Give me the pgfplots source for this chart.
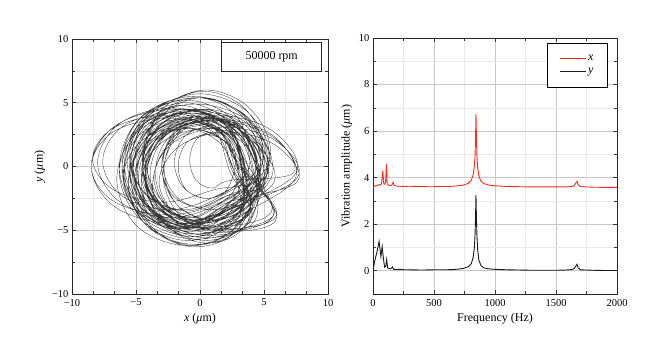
\documentclass[border=0pt]{standalone}
\usepackage{fontspec}
\setmainfont{Liberation Serif}
\usepackage{pgfplots}
\pgfplotsset{compat=1.18}

\definecolor{gridmaj}{RGB}{205,198,196}
\definecolor{gridmin}{RGB}{236,232,230}
\definecolor{redline}{RGB}{236,48,32}
\definecolor{orbit}{RGB}{55,55,55}

\pgfplotsset{common/.style={
  scale only axis,
  axis line style={line width=0.8pt, black!85},
  grid=both,
  major grid style={gridmaj, line width=0.6pt},
  minor grid style={gridmin, line width=0.4pt},
  tick align=inside, major tick length=4pt, minor tick length=3pt,
  tick style={black!80, line width=0.6pt},
  tick label style={font=\fontsize{10.5}{12}\selectfont},
  xticklabel style={yshift=-1.5pt},
  label style={font=\fontsize{12}{14}\selectfont},
  /pgf/number format/assume math mode=true,
}}

\begin{document}
\begin{tikzpicture}
\useasboundingbox (0,0) rectangle (660pt,361pt);

% ---------------- left: orbit ----------------
\begin{axis}[common,
  at={(72pt,67pt)}, anchor=south west,
  width=256pt, height=255pt,
  xmin=-10, xmax=10, ymin=-10, ymax=10,
  xtick={-10,-5,0,5,10}, ytick={-10,-5,0,5,10},
  xticklabels={−10,−5,0,5,10}, yticklabels={−10,−5,0,5,10},
  minor x tick num=2, minor y tick num=1,
  xlabel={\textit{x} (\textit{μ}m)}, ylabel={\textit{y} (\textit{μ}m)},
]
\addplot[orbit, line width=0.33pt, smooth, tension=0.6] coordinates {
(4.5,0) (3.2,3.2) (0,4.5) (-3.2,3.2) (-4.5,0) (-3.2,-3.2) (0,-4.5) (3.2,-3.2)
(4.5,-0.5) (3.05,2.9) (-0.5,4.3) (-4.05,2.9) (-5.5,-0.5) (-4.05,-3.9) (-0.5,-5.3) (3.05,-3.9)
(3.2,0) (2.0,3.2) (-1,4.5) (-4.0,3.2) (-5.2,0) (-4.0,-3.2) (-1,-4.5) (2.0,-3.2)
(5.3,-1) (3.9,2.3) (0.5,3.6) (-2.9,2.3) (-4.3,-1) (-2.9,-4.3) (0.5,-5.6) (3.9,-4.3)
(4.7,0.5) (3.2,4.05) (-0.5,5.5) (-4.2,4.05) (-5.7,0.5) (-4.2,-3.05) (-0.5,-4.5) (3.2,-3.05)
(3.0,-0.5) (1.7,2.5) (-1.5,3.7) (-4.7,2.5) (-6.0,-0.5) (-4.7,-3.5) (-1.5,-4.7) (1.7,-3.5)
(3.5,-0.5) (2.5,2.2) (0,3.3) (-2.5,2.2) (-3.5,-0.5) (-2.5,-3.2) (0,-4.3) (2.5,-3.2)
(4.5,-1) (2.9,2.7) (-1,4.2) (-4.9,2.7) (-6.5,-1) (-4.9,-4.7) (-1,-6.2) (2.9,-4.7)
(5,0) (3.8,3.0) (1,4.2) (-1.8,3.0) (-3,0) (-1.8,-3.0) (1,-4.2) (3.8,-3.0)
(5.3,0) (3.6,3.9) (-0.5,5.5) (-4.6,3.9) (-6.3,0) (-4.6,-3.9) (-0.5,-5.5) (3.6,-3.9)
(4.5,0) (2.6,3.2) (-2,4.5) (-6.6,3.2) (-8.5,0) (-6.6,-3.2) (-2,-4.5) (2.6,-3.2)
(7.5,-0.5) (5.8,2.7) (1.5,4.0) (-2.8,2.7) (-4.5,-0.5) (-2.8,-3.7) (1.5,-5.0) (5.8,-3.7)
(3,0) (2.1,2.3) (0,3.2) (-2.1,2.3) (-3,0) (-2.1,-2.3) (0,-3.2) (2.1,-2.3)
(4.1,-1) (2.8,2.7) (-0.5,4.2) (-3.8,2.7) (-5.1,-1) (-3.8,-4.7) (-0.5,-6.2) (2.8,-4.7)
(5.5,0.5) (4.05,4.4) (0.5,6.0) (-3.05,4.4) (-4.5,0.5) (-3.05,-3.4) (0.5,-5.0) (4.05,-3.4)
(2.5,0) (1.3,3.4) (-1.5,4.8) (-4.3,3.4) (-5.5,0) (-4.3,-3.4) (-1.5,-4.8) (1.3,-3.4)
(5.3,-0.5) (3.8,2.6) (0,3.9) (-3.8,2.6) (-5.3,-0.5) (-3.8,-3.6) (0,-4.9) (3.8,-3.6)
(3.4,0.5) (2.1,3.3) (-1,4.5) (-4.1,3.3) (-5.4,0.5) (-4.1,-2.3) (-1,-3.5) (2.1,-2.3)
(4.7,-1.5) (3.5,1.7) (0.5,3.0) (-2.5,1.7) (-3.7,-1.5) (-2.5,-4.7) (0.5,-6.0) (3.5,-4.7)
(5.3,0.2) (3.7,3.9) (-0.3,5.4) (-4.3,3.9) (-5.9,0.2) (-4.3,-3.5) (-0.3,-5.0) (3.7,-3.5)
(7.5,-0.8) (5.7,2.3) (1.2,3.6) (-3.3,2.3) (-5.1,-0.8) (-3.3,-3.9) (1.2,-5.2) (5.7,-3.9)
(3.5,0) (1.8,2.7) (-2.5,3.8) (-6.8,2.7) (-8.5,0) (-6.8,-2.7) (-2.5,-3.8) (1.8,-2.7)
(3.0,-0.6) (1.9,2.0) (-0.8,3.0) (-3.5,2.0) (-4.6,-0.6) (-3.5,-3.2) (-0.8,-4.2) (1.9,-3.2)
(4.9,0.3) (3.5,3.9) (0.2,5.4) (-3.1,3.9) (-4.5,0.3) (-3.1,-3.3) (0.2,-4.8) (3.5,-3.3)
(4.6,-1.2) (3.1,2.3) (-0.5,3.7) (-4.1,2.3) (-5.6,-1.2) (-4.1,-4.7) (-0.5,-6.1) (3.1,-4.7)
(3.1,0.8) (1.85,3.8) (-1.2,5.0) (-4.25,3.8) (-5.5,0.8) (-4.25,-2.2) (-1.2,-3.4) (1.85,-2.2)
(4.4,-0.2) (3.4,2.6) (0.8,3.8) (-1.8,2.6) (-2.8,-0.2) (-1.8,-3.0) (0.8,-4.2) (3.4,-3.0)
(5.7,-0.4) (4.0,3.4) (-0.3,4.9) (-4.6,3.4) (-6.3,-0.4) (-4.6,-4.2) (-0.3,-5.7) (4.0,-4.2)
(2.3,-0.3) (1.1,3.0) (-1.8,4.3) (-4.7,3.0) (-5.9,-0.3) (-4.7,-3.6) (-1.8,-4.9) (1.1,-3.6)
(5.3,0.1) (3.9,3.2) (0.4,4.5) (-3.1,3.2) (-4.5,0.1) (-3.1,-3.0) (0.4,-4.3) (3.9,-3.0)
(2.7,0) (2.1,1.8) (0.5,2.5) (-1.1,1.8) (-1.7,0) (-1.1,-1.8) (0.5,-2.5) (2.1,-1.8)
(2.8,0.5) (2.3,2.1) (1,2.7) (-0.3,2.1) (-0.8,0.5) (-0.3,-1.1) (1,-1.7) (2.3,-1.1)
(7.3,-0.5) (5.6,2.5) (1.5,3.7) (-2.6,2.5) (-4.3,-0.5) (-2.6,-3.5) (1.5,-4.7) (5.6,-3.5)
(3.6,0.3) (1.9,3.35) (-2.2,4.6) (-6.3,3.35) (-8.0,0.3) (-6.3,-2.75) (-2.2,-4.0) (1.9,-2.75)
(3.8,-0.8) (2.5,2.5) (-0.6,3.9) (-3.7,2.5) (-5.0,-0.8) (-3.7,-4.1) (-0.6,-5.5) (2.5,-4.1)
(5.4,0.4) (3.8,4.2) (0,5.7) (-3.8,4.2) (-5.4,0.4) (-3.8,-3.4) (0,-4.9) (3.8,-3.4)
(3.2,-0.8) (2.0,2.25) (-0.8,3.5) (-3.6,2.25) (-4.8,-0.8) (-3.6,-3.85) (-0.8,-5.1) (2.0,-3.85)
(4.7,-0.3) (3.4,2.6) (0.3,3.8) (-2.8,2.6) (-4.1,-0.3) (-2.8,-3.2) (0.3,-4.4) (3.4,-3.2)
(3.5,-0.2) (2.1,3.1) (-1.3,4.5) (-4.7,3.1) (-6.1,-0.2) (-4.7,-3.5) (-1.3,-4.9) (2.1,-3.5)
(5.8,-1.2) (4.3,1.8) (0.6,3.0) (-3.1,1.8) (-4.6,-1.2) (-3.1,-4.2) (0.6,-5.4) (4.3,-4.2)
(4.0,0.6) (2.8,4.0) (-0.2,5.4) (-3.2,4.0) (-4.4,0.6) (-3.2,-2.8) (-0.2,-4.2) (2.8,-2.8)
(3.6,-1.4) (2.3,1.7) (-1.0,3.0) (-4.3,1.7) (-5.6,-1.4) (-4.3,-4.5) (-1.0,-5.8) (2.3,-4.5)
(4.7,0.2) (3.6,2.8) (0.9,3.8) (-1.8,2.8) (-2.9,0.2) (-1.8,-2.4) (0.9,-3.4) (3.6,-2.4)
(3.3,0) (2.2,2.8) (-0.6,4.0) (-3.4,2.8) (-4.5,0) (-3.4,-2.8) (-0.6,-4.0) (2.2,-2.8)
(7.6,-1.2) (6.0,1.6) (2.2,2.7) (-1.6,1.6) (-3.2,-1.2) (-1.6,-4.0) (2.2,-5.1) (6.0,-4.0)
(2.8,0.6) (1.2,3.0) (-2.8,4.0) (-6.8,3.0) (-8.4,0.6) (-6.8,-1.8) (-2.8,-2.8) (1.2,-1.8)
(4.6,-0.9) (3.15,2.9) (-0.4,4.5) (-3.95,2.9) (-5.4,-0.9) (-3.95,-4.7) (-0.4,-6.3) (3.15,-4.7)
(4.9,0.9) (3.6,4.45) (0.3,5.9) (-3.0,4.45) (-4.3,0.9) (-3.0,-2.65) (0.3,-4.1) (3.6,-2.65)
(2.5,-0.3) (1.5,2.3) (-0.9,3.4) (-3.3,2.3) (-4.3,-0.3) (-3.3,-2.9) (-0.9,-4.0) (1.5,-2.9)
(4.3,-0.7) (3.05,2.6) (0,3.9) (-3.05,2.6) (-4.3,-0.7) (-3.05,-4.0) (0,-5.3) (3.05,-4.0)
(2.8,-0.9) (1.5,1.9) (-1.6,3.1) (-4.7,1.9) (-6.0,-0.9) (-4.7,-3.7) (-1.6,-4.9) (1.5,-3.7)
(5.1,-0.6) (3.9,2.5) (1.1,3.8) (-1.7,2.5) (-2.9,-0.6) (-1.7,-3.7) (1.1,-5.0) (3.9,-3.7)
(4.6,-0.2) (3.2,3.1) (-0.3,4.4) (-3.8,3.1) (-5.2,-0.2) (-3.8,-3.5) (-0.3,-4.8) (3.2,-3.5)
(3.2,0.3) (2.45,2.3) (0.6,3.1) (-1.25,2.3) (-2.0,0.3) (-1.25,-1.7) (0.6,-2.5) (2.45,-1.7)
(3.9,0.3) (2.45,3.8) (-1.1,5.2) (-4.65,3.8) (-6.1,0.3) (-4.65,-3.2) (-1.1,-4.6) (2.45,-3.2)
(5.0,-1.0) (3.7,2.4) (0.4,3.8) (-2.9,2.4) (-4.2,-1.0) (-2.9,-4.4) (0.4,-5.8) (3.7,-4.4)
(3.5,-0.5) (2.3,2.4) (-0.7,3.6) (-3.7,2.4) (-4.9,-0.5) (-3.7,-3.4) (-0.7,-4.6) (2.3,-3.4)
(7.6,-0.9) (6.0,1.95) (2.0,3.1) (-2.0,1.95) (-3.6,-0.9) (-2.0,-3.75) (2.0,-4.9) (6.0,-3.75)
(2.8,0.4) (1.3,3.1) (-2.4,4.2) (-6.1,3.1) (-7.6,0.4) (-6.1,-2.3) (-2.4,-3.4) (1.3,-2.3)
(3.5,-0.6) (2.4,2.3) (-0.2,3.5) (-2.8,2.3) (-3.9,-0.6) (-2.8,-3.5) (-0.2,-4.7) (2.4,-3.5)
(4.5,0)
};
\node[draw=black!85, fill=white, line width=0.9pt, minimum width=100pt, minimum height=29pt,
      anchor=north east, font=\fontsize{12}{14}\selectfont]
      at (rel axis cs:0.977,0.989) {50000 rpm};
\end{axis}

% ---------------- right: spectrum ----------------
\begin{axis}[common,
  at={(373pt,67pt)}, anchor=south west,
  width=244pt, height=256pt,
  xmin=0, xmax=2000, ymin=-1, ymax=10,
  xtick={0,500,1000,1500,2000}, ytick={0,2,4,6,8,10},
  minor x tick num=1, minor y tick num=1,
  scaled x ticks=false,
  xticklabel style={/pgf/number format/1000 sep={}},
  xlabel={Frequency (Hz)}, ylabel={Vibration amplitude (\textit{μ}m)},
  legend style={at={(0.963,0.982)}, anchor=north east, draw, line width=0.9pt,
    fill=white, font=\fontsize{12}{14}\selectfont, inner xsep=12pt, inner ysep=10pt,
    row sep=2pt},
  legend cell align=left,
  legend image code/.code={\draw[#1] (0cm,0cm) -- (26pt,0cm);},
]
\addplot[redline, line width=0.9pt] coordinates {
(0,3.55) (10,3.62) (20,3.65) (30,3.64) (40,3.68) (50,3.7) (60,3.68) (70,3.75)
(80,4.3) (88,3.75) (95,3.72) (103,3.8) (110,4.58) (117,3.7) (125,3.68) (140,3.66)
(155,3.68) (165,3.8) (175,3.66) (190,3.64) (220,3.63) (260,3.62) (300,3.63) (350,3.62)
(400,3.62) (450,3.61) (500,3.61) (550,3.62) (600,3.62) (650,3.63) (700,3.65) (740,3.68)
(780,3.75) (805,3.88) (820,4.1) (830,4.45) (836,4.9) (840,5.6) (844,6.74) (848,5.6)
(852,4.9) (858,4.4) (868,4.05) (885,3.85) (910,3.74) (950,3.68) (1000,3.65) (1100,3.62)
(1200,3.61) (1300,3.6) (1400,3.6) (1500,3.6) (1580,3.6) (1630,3.62) (1650,3.66) (1662,3.76)
(1672,3.84) (1682,3.7) (1700,3.62) (1750,3.6) (1800,3.59) (1900,3.58) (2000,3.58)
};
\addlegendentry{\textit{x}}
\addplot[black!90, line width=0.9pt] coordinates {
(0,0.0) (10,0.3) (20,0.55) (30,0.75) (40,1.0) (50,1.26) (58,0.9) (65,0.6)
(75,1.04) (85,0.55) (95,0.15) (105,0.2) (112,0.48) (120,0.12) (130,0.1) (145,0.08)
(160,0.16) (170,0.06) (190,0.05) (220,0.06) (260,0.04) (300,0.04) (400,0.03) (500,0.04)
(600,0.04) (650,0.05) (700,0.07) (740,0.1) (780,0.17) (805,0.3) (820,0.55) (830,0.95)
(836,1.5) (840,2.2) (844,3.26) (848,2.2) (852,1.5) (858,0.9) (868,0.45) (885,0.22)
(910,0.12) (950,0.08) (1000,0.06) (1100,0.04) (1200,0.03) (1300,0.02) (1400,0.02) (1500,0.02)
(1580,0.03) (1630,0.05) (1650,0.1) (1662,0.2) (1672,0.28) (1682,0.12) (1700,0.04) (1800,0.02)
(1900,0.01) (2000,0.01)
};
\addlegendentry{\textit{y}}
\end{axis}
\end{tikzpicture}
\end{document}
